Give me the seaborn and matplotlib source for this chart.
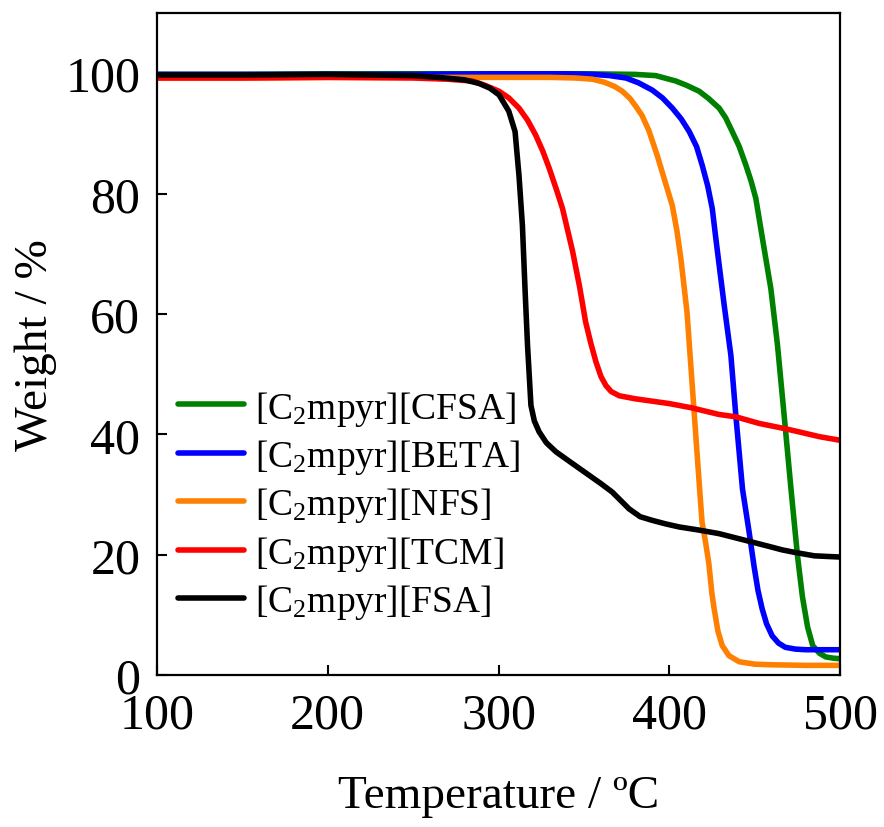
import matplotlib
matplotlib.use("Agg")
import matplotlib.pyplot as plt
import seaborn as sns
import pandas as pd

# ---- data ----
labels = ["[C$_2$mpyr][CFSA]", "[C$_2$mpyr][BETA]", "[C$_2$mpyr][NFS]",
          "[C$_2$mpyr][TCM]", "[C$_2$mpyr][FSA]"]
colors = ["#008000", "#0000FF", "#FF8000", "#FF0000", "#000000"]

t_cfsa = [100, 150, 200, 250, 300, 350, 380, 392, 403.8, 410, 417.5, 423, 429.2, 433, 436.9,
          441, 444.9, 448, 450.7, 454.6, 459.5, 463.4, 467.3, 471.3, 475.1, 478, 481, 484,
          488, 491.7, 496, 500]
w_cfsa = [99.8, 99.8, 99.9, 99.9, 99.9, 99.9, 99.8, 99.6, 98.7, 98.0, 97.0, 95.8, 94.2, 92.6, 90.3,
          87.8, 84.7, 82.0, 79.2, 72.5, 64.2, 54.8, 43.1, 30.9, 19.8, 13.0, 8.0, 4.9,
          3.6, 3.0, 2.8, 2.7]

t_beta = [100, 150, 200, 250, 300, 340, 355, 365, 374.6, 382, 390, 396, 401.8, 407, 411.7, 416,
          419.3, 422.5, 425.2, 427.3, 429.5, 432.2, 436.1, 439, 442.9, 446.8, 449.7, 452, 454.4,
          457, 460.3, 464, 468, 474, 480, 490, 500]
w_beta = [99.8, 99.8, 99.8, 99.8, 99.9, 99.9, 99.8, 99.6, 99.2, 98.4, 97.2, 95.9, 94.2, 92.4, 90.3, 87.8,
          84.7, 81.3, 77.5, 72.5, 67.5, 61.4, 53.1, 43.1, 30.9, 23.7, 18.0, 14.0, 11.0,
          8.5, 6.5, 5.3, 4.6, 4.3, 4.2, 4.2, 4.2]

t_nfs = [100, 150, 200, 250, 300, 330, 345, 355, 362, 368, 372.5, 377, 380.4, 384, 388, 393, 397,
         401.8, 404.5, 406.8, 410.4, 414.3, 417, 419.2, 421.3, 423.2, 425, 426.3, 428.5, 431, 435,
         441, 450, 460, 480, 500]
w_nfs = [99.2, 99.2, 99.3, 99.3, 99.3, 99.3, 99.2, 99.0, 98.5, 97.8, 97.0, 95.8, 94.5, 93.0, 90.5, 86.3, 82.5,
         78.0, 73.8, 69.2, 60.3, 44.8, 34.0, 25.4, 22.0, 18.5, 13.5, 11.0, 7.3, 4.9, 3.2,
         2.2, 1.8, 1.7, 1.6, 1.6]

t_tcm = [100, 150, 200, 250, 270, 284.5, 292, 300.3, 306, 312, 317, 321.8, 326, 329.7, 334, 337.5,
         343.4, 347.5, 351, 354, 357, 360, 362.9, 366, 370.7, 380, 390, 400, 413, 429, 439,
         452.7, 468.3, 476, 488, 500]
w_tcm = [99.2, 99.2, 99.3, 99.2, 99.0, 98.7, 98.0, 97.0, 95.9, 94.2, 92.2, 89.7, 87.0, 84.2, 80.6, 77.5,
         70.4, 64.5, 58.7, 55.2, 52.1, 49.6, 48.1, 47.1, 46.4, 45.9, 45.5, 45.1, 44.4, 43.3, 42.9,
         41.8, 40.9, 40.4, 39.6, 39.0]

t_fsa = [100, 150, 200, 250, 265, 280, 288.6, 295, 300.3, 306, 309.7, 312, 314, 315.6, 317, 319,
         321, 323.8, 328, 333.6, 343, 353, 360, 366.6, 376.5, 383, 390, 398, 405.8, 417, 429,
         445.6, 458, 466, 473, 485, 500]
w_fsa = [99.7, 99.7, 99.8, 99.6, 99.3, 98.9, 98.3, 97.5, 96.4, 93.7, 90.3, 83.0, 74.7, 63.7, 54.8, 44.8,
         42.2, 40.4, 38.6, 37.1, 35.2, 33.2, 31.8, 30.4, 27.6, 26.3, 25.7, 25.1, 24.6, 24.1, 23.5,
         22.3, 21.4, 20.8, 20.4, 19.8, 19.6]

x_ticks = [100, 200, 300, 400, 500]
y_ticks = [0, 20, 40, 60, 80, 100]

series_t = [t_cfsa, t_beta, t_nfs, t_tcm, t_fsa]
series_w = [w_cfsa, w_beta, w_nfs, w_tcm, w_fsa]

frames = []
for lab, tt, ww in zip(labels, series_t, series_w):
    frames.append(pd.DataFrame({"T": tt, "W": ww, "sample": lab}))
df = pd.concat(frames, ignore_index=True)

# ---- style ----
sns.set_style("ticks")
plt.rcParams["font.family"] = ["Liberation Serif", "DejaVu Serif"]
plt.rcParams["mathtext.fontset"] = "custom"
plt.rcParams["mathtext.rm"] = "Liberation Serif"
plt.rcParams["mathtext.it"] = "Liberation Serif:italic"
plt.rcParams["mathtext.bf"] = "Liberation Serif:bold"
plt.rcParams["text.color"] = "black"
plt.rcParams["axes.labelcolor"] = "black"
plt.rcParams["xtick.color"] = "black"
plt.rcParams["ytick.color"] = "black"
plt.rcParams["axes.edgecolor"] = "black"

fig = plt.figure(figsize=(8.84, 8.28), dpi=100)
ax = fig.add_axes([157 / 884, 152 / 828, 683 / 884, 662 / 828])

LW = 4.0
sns.lineplot(data=df, x="T", y="W", hue="sample", hue_order=labels,
             palette=dict(zip(labels, colors)), sort=False, estimator=None,
             linewidth=LW, ax=ax)
for ln in ax.get_lines():
    ln.set_solid_capstyle("round")
    ln.set_solid_joinstyle("round")

ax.set_xlim(100, 500)
ax.set_ylim(0, 110)
ax.set_xticks(x_ticks)
ax.set_yticks(y_ticks)
ax.set_xlabel("Temperature / ºC", fontsize=34, labelpad=26, color="black")
ax.set_ylabel("Weight / %", fontsize=34, labelpad=6, color="black")
ax.tick_params(axis="both", direction="in", length=7, width=1.5, labelsize=36,
               top=False, right=False, colors="black")
ax.tick_params(axis="y", pad=12)
ax.tick_params(axis="x", pad=12)
for s in ax.spines.values():
    s.set_visible(True)
    s.set_linewidth(1.6)
    s.set_color("black")

leg = ax.legend(loc="center left", bbox_to_anchor=(0.031, 0.257), frameon=False,
                fontsize=27, handlelength=1.75, handletextpad=0.3, labelspacing=0.25,
                borderpad=0, borderaxespad=0)
for line in leg.get_lines():
    line.set_linewidth(LW)
    line.set_solid_capstyle("round")
for txt in leg.get_texts():
    txt.set_color("black")

fig.savefig("out.png", dpi=100)
